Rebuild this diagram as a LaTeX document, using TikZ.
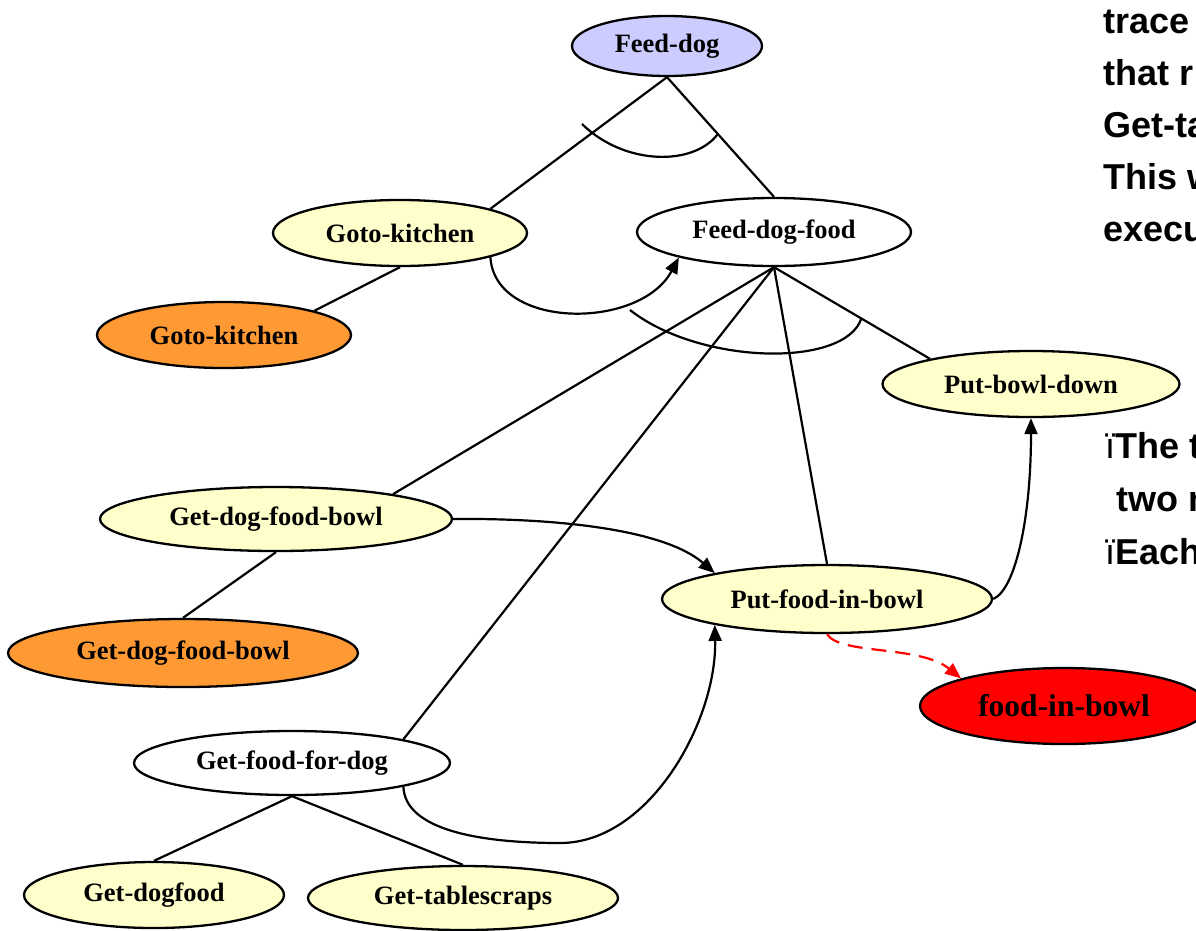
\documentclass[tikz,border=0pt]{standalone}
\usepackage{fontspec}
\setmainfont{Liberation Serif}
\newfontfamily\sidefont{Liberation Sans}
\usetikzlibrary{shapes.geometric,arrows.meta,calc}

\definecolor{lavender}{HTML}{CCCCFF}
\definecolor{paleyellow}{HTML}{FFFFCC}
\definecolor{taskorange}{HTML}{FF9933}
\definecolor{goalred}{HTML}{FF0000}

\tikzset{
  task/.style={ellipse, draw=black, line width=2.3pt, inner sep=0pt,
    font=\fontsize{26.5}{30}\selectfont\bfseries},
  bigtask/.style={task, font=\fontsize{31.5}{36}\selectfont\bfseries},
  link/.style={line width=2.2pt},
  andarc/.style={line width=2.2pt},
  order/.style={line width=2.2pt, -{Triangle[length=16pt,width=13pt]}},
  effect/.style={line width=2.2pt, draw=goalred, dash pattern=on 15pt off 9pt,
    -{Triangle[length=16pt,width=13pt,fill=goalred]}},
  side/.style={anchor=base west, inner sep=0pt,
    font=\sidefont\fontsize{36}{40}\selectfont\bfseries},
}

\begin{document}
\begin{tikzpicture}[x=1pt,y=-1pt]
\useasboundingbox (0,0) rectangle (1196,930);
\fill[white] (0,0) rectangle (1196,930);
\begin{scope}
\clip (0,0) rectangle (1196,930);

% task nodes
\node[task, fill=lavender,   minimum width=190pt, minimum height=60pt] (fd)    at (667,46)  {Feed-dog};
\node[task, fill=paleyellow, minimum width=254pt, minimum height=66pt] (gk)    at (400,233) {Goto-kitchen};
\node[task, fill=white,      minimum width=274pt, minimum height=68pt] (fdf)   at (774,232) {Feed-dog-food};
\node[task, fill=taskorange, minimum width=254pt, minimum height=66pt] (gko)   at (224,335) {Goto-kitchen};
\node[task, fill=paleyellow, minimum width=297pt, minimum height=66pt] (pbd)   at (1031,384) {Put-bowl-down};
\node[task, fill=paleyellow, minimum width=352pt, minimum height=64pt] (gdfb)  at (276,519) {Get-dog-food-bowl};
\node[task, fill=paleyellow, minimum width=330pt, minimum height=68pt] (pfb)   at (827,599) {Put-food-in-bowl};
\node[task, fill=taskorange, minimum width=350pt, minimum height=68pt] (gdfbo) at (183,653) {Get-dog-food-bowl};
\node[bigtask, fill=goalred, minimum width=288pt, minimum height=76pt] (fib)   at (1064,706) {food-in-bowl};
\node[task, fill=white,      minimum width=316pt, minimum height=64pt] (gff)   at (292,763) {Get-food-for-dog};
\node[task, fill=paleyellow, minimum width=260pt, minimum height=66pt] (gd)    at (154,895) {Get-dogfood};
\node[task, fill=paleyellow, minimum width=310pt, minimum height=64pt] (gt)    at (463,898) {Get-tablescraps};

% decomposition links
\draw[link] (fd.south) -- (gk.15);
\draw[link] (fd.south) -- (fdf.north);
\draw[link] (gk.south) -- (gko.15);
\draw[link] (fdf.south) -- (gdfb.12);
\draw[link] (fdf.south) -- (gff.12);
\draw[link] (fdf.south) -- (pfb.north);
\draw[link] (fdf.south) -- (pbd.166);
\draw[link] (gdfb.south) -- (gdfbo.north);
\draw[link] (gff.south) -- (gd.north);
\draw[link] (gff.south) -- (gt.north);

% AND arcs across the sub-task links
\draw[andarc] (582,124) .. controls (625,166) and (694,166) .. ($(fd.south)!0.475!(fdf.north)$);
\draw[andarc] (630,310) .. controls (700,365) and (845,368) .. ($(fdf.south)!0.56!(pbd.166)$);

% ordering constraints
\draw[order] (gk.-15) .. controls (495,330) and (640,330) .. (fdf.-165);
\draw[order] (gdfb.east) .. controls (560,518) and (665,530) .. (pfb.167);
\draw[order] (gff.-12) .. controls (405,830) and (480,843) .. (560,843)
                       .. controls (650,843) and (717,720) .. (pfb.-167);
\draw[order] (pfb.east) .. controls (1015,590) and (1031,520) .. (pbd.south);

% effect of the action
\draw[effect] (pfb.south) .. controls (840,655) and (920,645) .. (fib.165);

% side text
\node[side] (s1) at (1103,33)  {trace};
\node[side] (s2) at (1103,85)  {that r};
\node[side] (s3) at (1103,137) {Get-ta};
\node[side] (s4) at (1103,189) {This w};
\node[side] (s5) at (1103,241) {execu};
\node[side] (b1) at (1105,458) {{\mdseries ï}The t};
\node[side] (b2) at (1116,511) {two m};
\node[side] (b3) at (1105,564) {{\mdseries ï}Each};
\end{scope}
\end{tikzpicture}
\end{document}
